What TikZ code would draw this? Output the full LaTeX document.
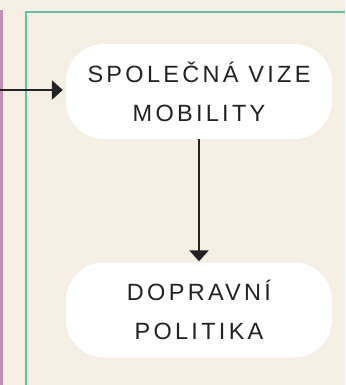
\documentclass[tikz,border=0pt]{standalone}
\usepackage{fontspec}
\setmainfont{Liberation Sans}
\newfontfamily\stagefont[LetterSpace=14]{Liberation Sans}
\usetikzlibrary{arrows.meta}
\definecolor{paper}{HTML}{F5EFE3}
\definecolor{framegreen}{HTML}{63C1A3}
\definecolor{sidepurple}{HTML}{C48DB7}
\definecolor{ink}{HTML}{222222}
\begin{document}
\begin{tikzpicture}[x=1pt,y=1pt,
  stage/.style={fill=white, rounded corners=38pt, minimum width=266pt,
    minimum height=95pt, align=center, text=ink, inner sep=0pt,
    font=\stagefont\fontsize{23.5}{39}\selectfont},
  flow/.style={draw=ink, line width=2.8pt,
    -{Triangle[length=11pt,width=19pt]}}]
% page background
\fill[paper] (0,0) rectangle (345,-385);
\useasboundingbox (0,0) rectangle (345,-385);
% side rule and framing panel
\draw[sidepurple, line width=3pt] (1.2,-10) -- (1.2,-385);
\draw[framegreen, line width=2.6pt] (26,-385) -- (26,-12) -- (345,-12);
% stages
\node[stage] (vize) at (199,-91.5) {SPOLEČNÁ VIZE\\MOBILITY};
\node[stage] (politika) at (199,-310) {DOPRAVNÍ\\POLITIKA};
% connectors
\coordinate (src) at (0,-90);
\draw[flow, shorten >=3pt] (src) -- (src -| vize.west);
\draw[flow, shorten >=1pt] (vize.south) -- (politika.north);
\end{tikzpicture}
\end{document}
